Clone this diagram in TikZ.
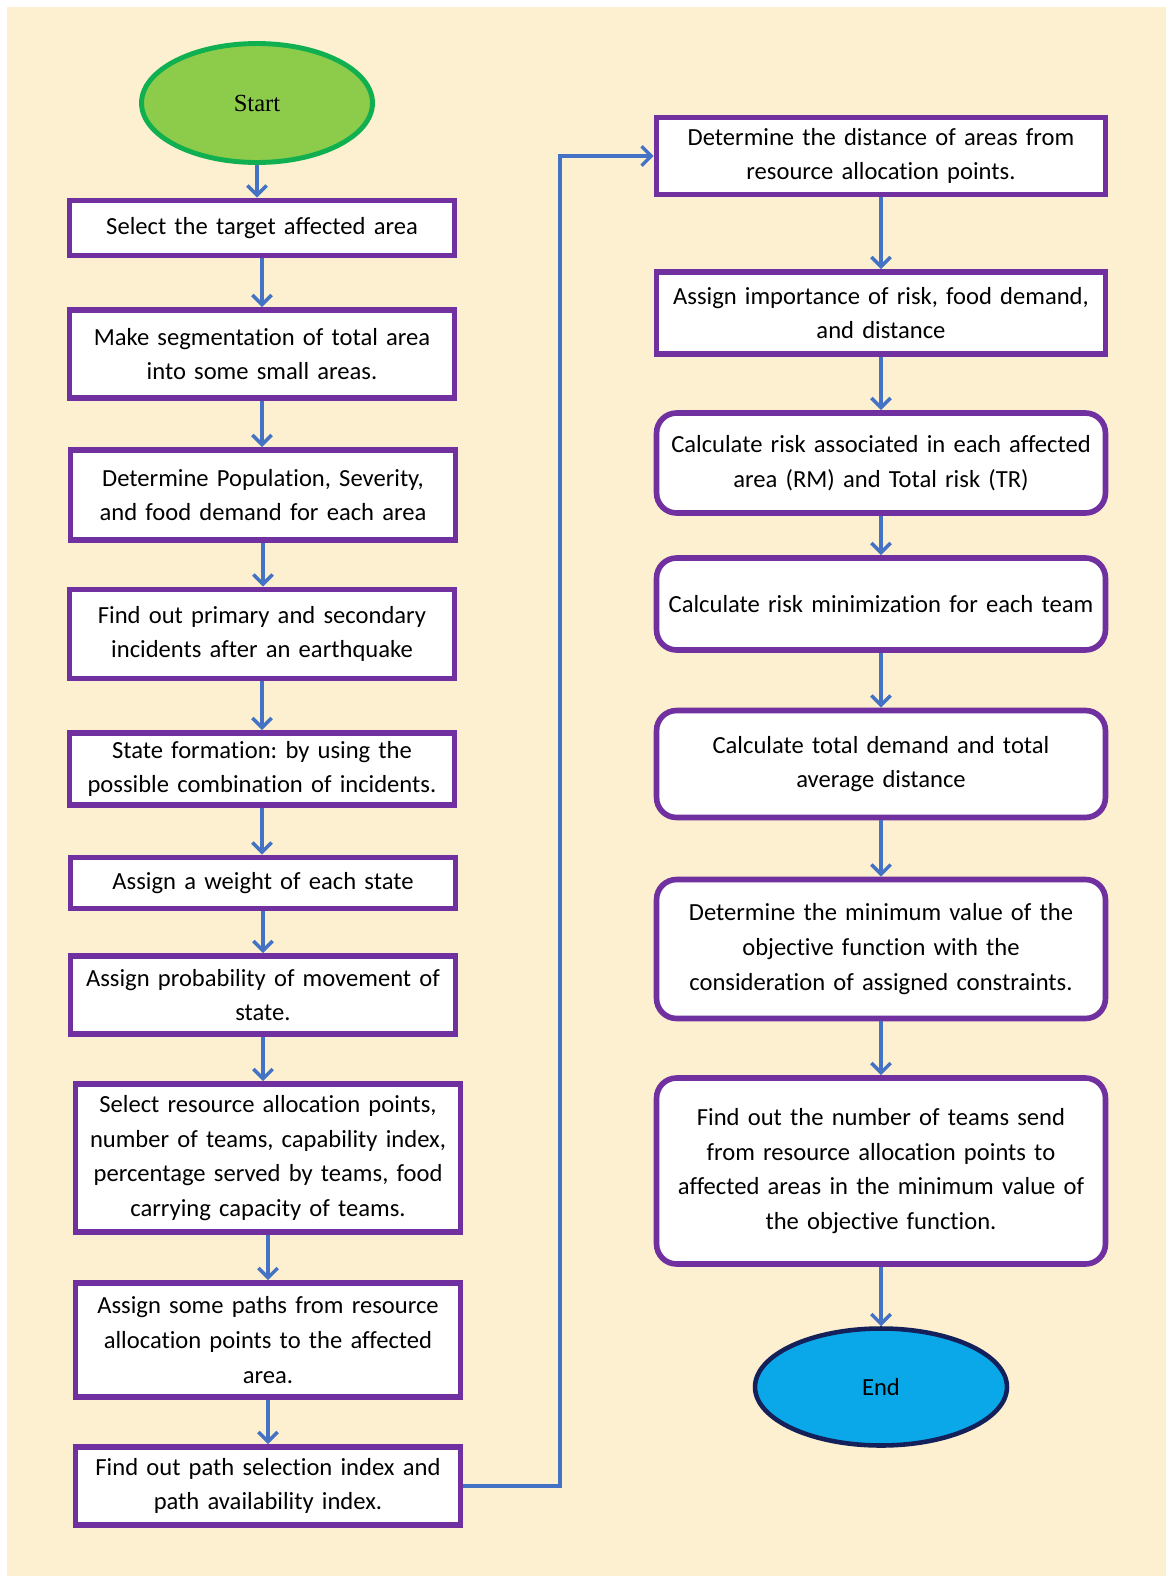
\documentclass[tikz,border=0pt]{standalone}
\usepackage{fontspec}
\setmainfont[Ligatures=CommonOff]{Carlito}
\newfontfamily\startfont{Liberation Serif}
\frenchspacing
\usetikzlibrary{arrows.meta, positioning, shapes.geometric}
\definecolor{boxpurple}{HTML}{7030A0}
\definecolor{flowblue}{HTML}{4472C4}
\definecolor{paper}{HTML}{FDF0D0}
\definecolor{startgreen}{HTML}{8DCB4A}
\definecolor{startedge}{HTML}{10B050}
\definecolor{endblue}{HTML}{0AA8E8}
\definecolor{endedge}{HTML}{14205A}

\tikzset{
  leftbox/.style={draw=boxpurple, line width=3.2pt, fill=white, align=center,
    minimum width=7.7cm, text width=7.5cm, inner sep=2pt,
    font=\fontsize{14}{19.8}\selectfont},
  rightbox/.style={leftbox, minimum width=8.98cm, text width=8.8cm},
  roundbox/.style={rightbox, rounded corners=0.4cm},
  flow/.style={draw=flowblue, line width=2pt, -{Straight Barb[length=5.5pt, width=11pt]}}
}

\begin{document}
\begin{tikzpicture}[x=0.02cm, y=-0.02cm]
      \useasboundingbox (0,0) rectangle (1166,1576);
      \fill[white] (0,0) rectangle (1166,1576);
      \fill[paper] (7,7) rectangle (1166,1576);
      % left column
      \node[ellipse, draw=startedge, line width=2.8pt, fill=startgreen,
        minimum width=4.62cm, minimum height=2.38cm,
        font=\startfont\fontsize{14}{16}\selectfont] (start) at (257,103) {Start};
      \node[leftbox, minimum height=1.1cm] (area) at (262,228) {Select the target affected area};
      \node[leftbox, minimum height=1.76cm] (segment) at (262,354) {Make segmentation of total area\\into some small areas.};
      \node[leftbox, minimum height=1.8cm] (population) at (263,495) {Determine Population, Severity,\\and food demand for each area};
      \node[leftbox, minimum height=1.78cm] (incident) at (262,634) {Find out primary and secondary\\incidents after an earthquake};
      \node[leftbox, minimum height=1.44cm] (states) at (262,769) {State formation: by using the\\possible combination of incidents.};
      \node[leftbox, minimum height=1.02cm] (weight) at (263,883) {Assign a weight of each state};
      \node[leftbox, minimum height=1.56cm] (movement) at (263,995) {Assign probability of movement of\\state.};
      \node[leftbox, minimum height=2.96cm] (resource) at (268,1158) {Select resource allocation points,\\number of teams, capability index,\\percentage served by teams, food\\carrying capacity of teams.};
      \node[leftbox, minimum height=2.28cm] (paths) at (268,1340) {Assign some paths from resource\\allocation points to the affected\\area.};
      \node[leftbox, minimum height=1.56cm] (pathindex) at (268,1486) {Find out path selection index and\\path availability index.};
      % right column
      \node[rightbox, minimum height=1.54cm] (distance) at (881,156) {Determine the distance of areas from\\resource allocation points.};
      \node[rightbox, minimum height=1.64cm] (importance) at (881,313) {Assign importance of risk, food demand,\\and distance};
      \node[roundbox, minimum height=2cm] (risk) at (881,463) {Calculate risk associated in each affected\\area (RM) and Total risk (TR)};
      \node[roundbox, minimum height=1.84cm] (minrisk) at (881,604) {Calculate risk minimization for each team};
      \node[roundbox, minimum height=2.14cm] (demand) at (881,764) {Calculate total demand and total\\average distance};
      \node[roundbox, minimum height=2.78cm] (objective) at (881,949) {Determine the minimum value of the\\objective function with the\\consideration of assigned constraints.};
      \node[roundbox, minimum height=3.72cm] (teams) at (881,1171) {Find out the number of teams send\\from resource allocation points to\\affected areas in the minimum value of\\the objective function.};
      \node[ellipse, draw=endedge, line width=2.6pt, fill=endblue,
        minimum width=5.04cm, minimum height=2.34cm,
        font=\fontsize{14}{16}\selectfont] (end) at (881,1387) {End};
      % connectors
      \foreach \a/\b in {start/area, area/segment, segment/population, population/incident,
          incident/states, states/weight, weight/movement, movement/resource,
          resource/paths, paths/pathindex, distance/importance, importance/risk,
          risk/minrisk, minrisk/demand, demand/objective, objective/teams, teams/end}
        \draw[flow] (\a.south) -- (\a.south |- \b.north);
      \coordinate (turn) at (560,0);
      \draw[flow] (pathindex.east) -| (turn |- distance.west) -- (distance.west);
   \end{tikzpicture}
\end{document}
